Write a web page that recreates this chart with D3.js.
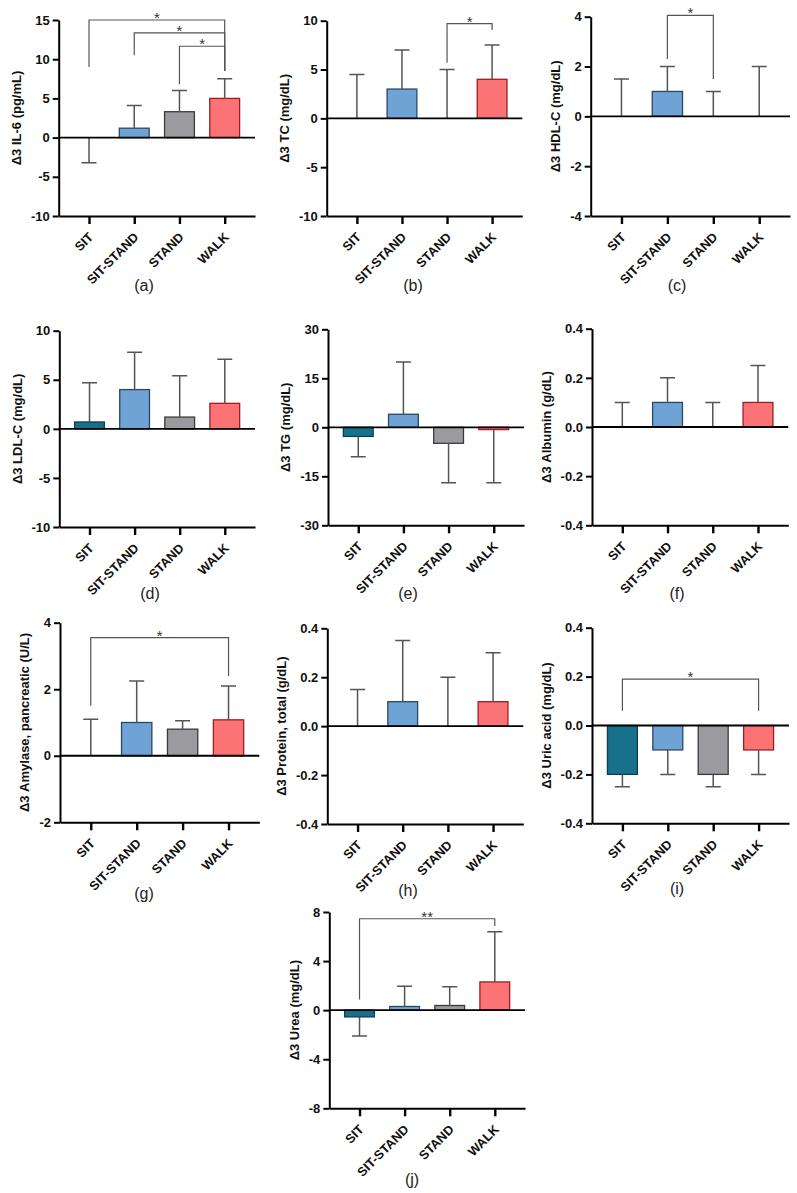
<!DOCTYPE html>
<html>
<head>
<meta charset="utf-8">
<script src="https://cdn.jsdelivr.net/npm/d3@7"></script>
<style>
  body { margin: 0; background: #fff; }
  svg text { font-family: Arial, "Liberation Sans", sans-serif; }
</style>
</head>
<body>
<div id="figure"></div>
<script>
////////////////////////////////////////////////////////////////////////////////
/////////////////////////////////////////////////////////////////////////// Data
////////////////////////////////////////////////////////////////////////////////

const categories = ["SIT", "SIT-STAND", "STAND", "WALK"];

// mean change and end of the error bar, per group
const il6Mean = [0, 1.2, 3.3, 5.0];
const il6Err = [-3.2, 4.1, 6.0, 7.5];
const il6Ticks = [-10, -5, 0, 5, 10, 15];

const tcMean = [0, 3.0, 0, 4.0];
const tcErr = [4.5, 7.0, 5.0, 7.5];
const tcTicks = [-10, -5, 0, 5, 10];

const hdlMean = [0, 1.0, 0, 0];
const hdlErr = [1.5, 2.0, 1.0, 2.0];
const hdlTicks = [-4, -2, 0, 2, 4];

const ldlMean = [0.7, 4.0, 1.2, 2.6];
const ldlErr = [4.7, 7.8, 5.4, 7.1];
const ldlTicks = [-10, -5, 0, 5, 10];

const tgMean = [-2.8, 4.0, -4.9, -0.7];
const tgErr = [-9.0, 20.0, -17.0, -17.0];
const tgTicks = [-30, -15, 0, 15, 30];

const albuminMean = [0, 0.1, 0, 0.1];
const albuminErr = [0.1, 0.2, 0.1, 0.25];
const albuminTicks = [-0.4, -0.2, 0, 0.2, 0.4];

const amylaseMean = [0, 1.0, 0.8, 1.08];
const amylaseErr = [1.1, 2.25, 1.05, 2.1];
const amylaseTicks = [-2, 0, 2, 4];

const proteinMean = [0, 0.1, 0, 0.1];
const proteinErr = [0.15, 0.35, 0.2, 0.3];
const proteinTicks = [-0.4, -0.2, 0, 0.2, 0.4];

const uricMean = [-0.2, -0.1, -0.2, -0.1];
const uricErr = [-0.25, -0.2, -0.25, -0.2];
const uricTicks = [-0.4, -0.2, 0, 0.2, 0.4];

const ureaMean = [-0.55, 0.3, 0.38, 2.3];
const ureaErr = [-2.1, 1.95, 1.9, 6.4];
const ureaTicks = [-8, -4, 0, 4, 8];

// significance brackets: from group, to group, bar level, left leg end, right leg end
const il6Brackets = [
  { from: 0, to: 3, level: 15, left: 9.0, right: 8.5, label: "*" },
  { from: 1, to: 3, level: 13.35, left: 10.5, right: 8.5, label: "*" },
  { from: 2, to: 3, level: 11.65, left: 6.8, right: 8.5, label: "*" }
];
const tcBrackets = [{ from: 2, to: 3, level: 9.7, left: 5.7, right: 9.05, label: "*" }];
const hdlBrackets = [{ from: 1, to: 2, level: 4.05, left: 2.3, right: 1.5, label: "*" }];
const amylaseBrackets = [{ from: 0, to: 3, level: 3.55, left: 1.5, right: 2.4, label: "*" }];
const uricBrackets = [{ from: 0, to: 3, level: 0.19, left: 0.06, right: 0.06, label: "*" }];
const ureaBrackets = [{ from: 0, to: 3, level: 7.45, left: 0.87, right: 6.85, label: "**" }];

// group colours
const barFill = ["#17718c", "#6fa3d5", "#9b9b9f", "#fb7375"];
const barStroke = ["#0b3f4f", "#2a4866", "#3a3a3a", "#9e1c22"];

////////////////////////////////////////////////////////////////////////////////
///////////////////////////////////////////////////////////////////////// Layout
////////////////////////////////////////////////////////////////////////////////

// box = [left, top, right, bottom] of each plot area, letter = centre of "(x)"
const panels = [
  { letter: "a", title: "Δ3 IL-6 (pg/mL)", mean: il6Mean, err: il6Err, ticks: il6Ticks, dec: 0,
    brackets: il6Brackets, box: [58.7, 20, 255, 216], letterAt: [144, 285] },
  { letter: "b", title: "Δ3 TC (mg/dL)", mean: tcMean, err: tcErr, ticks: tcTicks, dec: 0,
    brackets: tcBrackets, box: [326.7, 20.7, 522.3, 216], letterAt: [413, 285] },
  { letter: "c", title: "Δ3 HDL-C (mg/dL)", mean: hdlMean, err: hdlErr, ticks: hdlTicks, dec: 0,
    brackets: hdlBrackets, box: [590.7, 16.7, 790, 216], letterAt: [677, 285] },
  { letter: "d", title: "Δ3 LDL-C (mg/dL)", mean: ldlMean, err: ldlErr, ticks: ldlTicks, dec: 0,
    brackets: [], box: [59.3, 330.7, 255, 527], letterAt: [150, 593] },
  { letter: "e", title: "Δ3 TG (mg/dL)", mean: tgMean, err: tgErr, ticks: tgTicks, dec: 0,
    brackets: [], box: [328, 329.3, 524, 525.3], letterAt: [408, 593] },
  { letter: "f", title: "Δ3 Albumin (g/dL)", mean: albuminMean, err: albuminErr, ticks: albuminTicks, dec: 1,
    brackets: [], box: [592, 328.7, 788.3, 525.3], letterAt: [677, 593] },
  { letter: "g", title: "Δ3 Amylase, pancreatic (U/L)", mean: amylaseMean, err: amylaseErr, ticks: amylaseTicks, dec: 0,
    brackets: amylaseBrackets, box: [60, 622.7, 259.3, 822.3], letterAt: [144, 893] },
  { letter: "h", title: "Δ3 Protein, total (g/dL)", mean: proteinMean, err: proteinErr, ticks: proteinTicks, dec: 1,
    brackets: [], box: [327.3, 628.3, 523.3, 824], letterAt: [408, 890] },
  { letter: "i", title: "Δ3 Uric acid (mg/dL)", mean: uricMean, err: uricErr, ticks: uricTicks, dec: 1,
    brackets: uricBrackets, box: [592, 627.7, 789, 823.3], letterAt: [677, 888] },
  { letter: "j", title: "Δ3 Urea (mg/dL)", mean: ureaMean, err: ureaErr, ticks: ureaTicks, dec: 0,
    brackets: ureaBrackets, box: [329.3, 912, 525, 1108.3], letterAt: [412, 1179] }
];

const svg = d3.select("#figure")
              .append("svg")
                .attr("width", 797)
                .attr("height", 1193)
                .style("background", "#fff");

////////////////////////////////////////////////////////////////////////////////
////////////////////////////////////////////////////////////////////////// Draw
////////////////////////////////////////////////////////////////////////////////

function drawPanel(p) {
  const [x0, y0, x1, y1] = p.box;
  const g = svg.append("g").attr("class", "panel-" + p.letter);

  const xScale = d3.scalePoint()
                   .domain(categories)
                   .range([x0, x1])
                   .padding(0.67);
  const barWidth = xScale.step() * 0.66;

  const yScale = d3.scaleLinear()
                   .domain(d3.extent(p.ticks))
                   .range([y1, y0]);

  const rows = categories.map((c, i) => ({ cat: c, i: i, mean: p.mean[i], err: p.err[i] }));

  // bars
  g.selectAll(".bar")
    .data(rows)
    .join("rect")
      .attr("class", "bar")
      .attr("x", d => xScale(d.cat) - barWidth / 2)
      .attr("y", d => yScale(Math.max(d.mean, 0)))
      .attr("width", barWidth)
      .attr("height", d => Math.abs(yScale(d.mean) - yScale(0)))
      .attr("fill", d => barFill[d.i])
      .attr("stroke", d => barStroke[d.i])
      .attr("stroke-width", 1.3);

  // error bars
  g.selectAll(".err")
    .data(rows)
    .join("path")
      .attr("class", "err")
      .attr("d", d => {
        const cx = xScale(d.cat);
        return `M${cx},${yScale(d.mean)}V${yScale(d.err)}M${cx - 7.5},${yScale(d.err)}H${cx + 7.5}`;
      })
      .attr("fill", "none")
      .attr("stroke", "#555")
      .attr("stroke-width", 1.5);

  // zero line
  g.append("line")
    .attr("x1", x0)
    .attr("x2", x1)
    .attr("y1", yScale(0))
    .attr("y2", yScale(0))
    .attr("stroke", "#000")
    .attr("stroke-width", 1.8);

  // Y-axis
  const yAxis = d3.axisLeft(yScale)
                  .tickValues(p.ticks)
                  .tickSize(6)
                  .tickSizeOuter(0)
                  .tickPadding(3)
                  .tickFormat(d => d.toFixed(p.dec));
  const yG = g.append("g")
              .attr("transform", `translate(${x0},0)`)
              .call(yAxis);
  yG.select(".domain").attr("stroke-width", 2);
  yG.selectAll(".tick line").attr("stroke-width", 2);
  yG.selectAll(".tick text")
    .attr("font-size", 13)
    .attr("font-weight", "bold")
    .attr("fill", "#111");

  // X-axis
  const xAxis = d3.axisBottom(xScale)
                  .tickSize(8)
                  .tickSizeOuter(0)
                  .tickFormat("");
  const xG = g.append("g")
              .attr("transform", `translate(0,${y1})`)
              .call(xAxis);
  xG.select(".domain").attr("stroke-width", 2);
  xG.selectAll(".tick line").attr("stroke-width", 2.4);

  g.selectAll(".cat-label")
    .data(categories)
    .join("text")
      .attr("class", "cat-label")
      .attr("transform", d => `translate(${xScale(d) + 5},${y1 + 22}) rotate(-45)`)
      .attr("text-anchor", "end")
      .attr("font-size", 12.8)
      .attr("font-weight", "bold")
      .attr("fill", "#111")
      .text(d => d);

  // Y title, left of the tick labels (bbox is in the axis group's own frame)
  const tickBox = yG.node().getBBox();
  g.append("text")
    .attr("transform", `translate(${x0 + tickBox.x - 10},${(y0 + y1) / 2}) rotate(-90)`)
    .attr("text-anchor", "middle")
    .attr("font-size", 13)
    .attr("font-weight", "bold")
    .attr("fill", "#111")
    .text(p.title);

  // significance brackets
  p.brackets.forEach(b => {
    const xa = xScale(categories[b.from]);
    const xb = xScale(categories[b.to]);
    const yl = yScale(b.level);
    g.append("path")
      .attr("d", `M${xa},${yScale(b.left)}V${yl}H${xb}V${yScale(b.right)}`)
      .attr("fill", "none")
      .attr("stroke", "#555")
      .attr("stroke-width", 1.2);
    g.append("text")
      .attr("x", (xa + xb) / 2)
      .attr("y", yl + 3)
      .attr("text-anchor", "middle")
      .attr("font-size", 15)
      .attr("fill", "#333")
      .text(b.label);
  });

  // panel letter
  g.append("text")
    .attr("x", p.letterAt[0])
    .attr("y", p.letterAt[1] + 5.5)
    .attr("text-anchor", "middle")
    .attr("font-size", 16)
    .attr("fill", "#222")
    .text(`(${p.letter})`);
}

panels.forEach(drawPanel);
</script>
</body>
</html>
